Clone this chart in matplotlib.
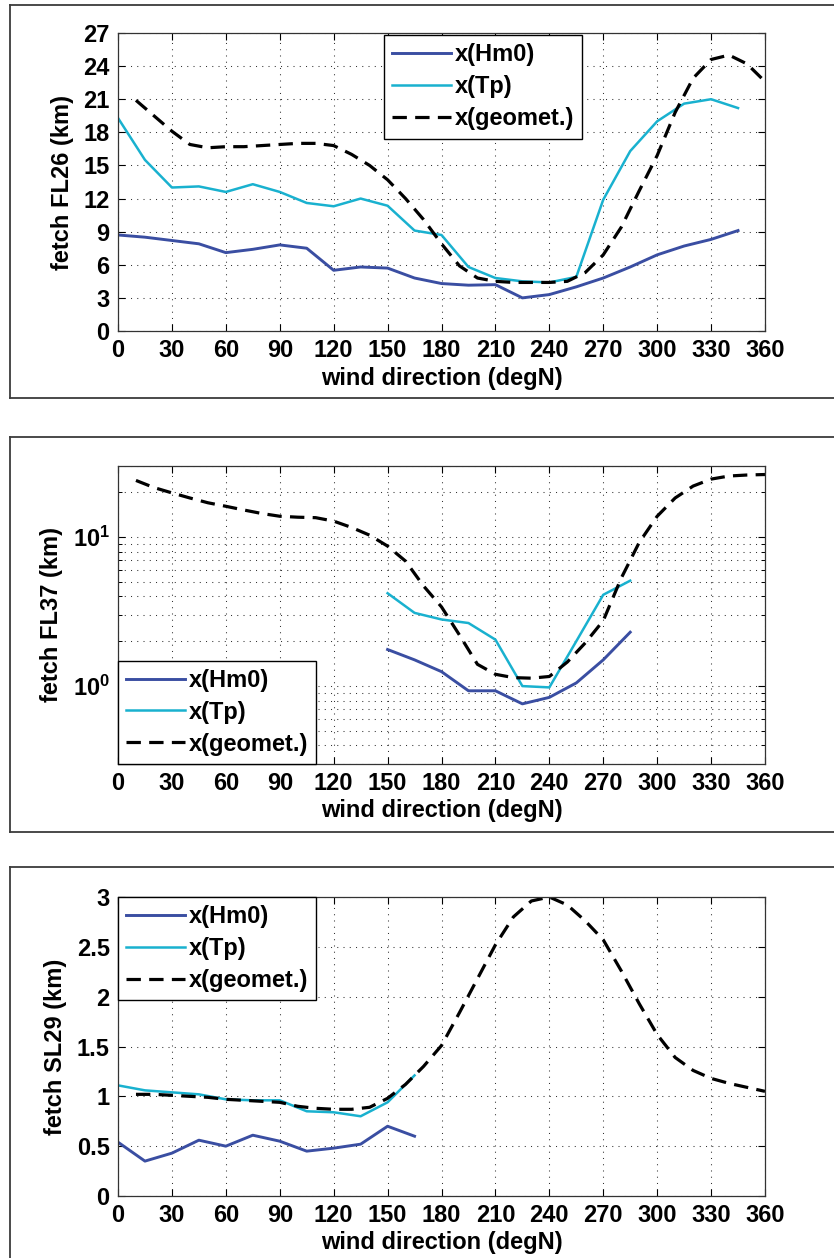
import matplotlib
matplotlib.use("Agg")
import matplotlib.pyplot as plt
from matplotlib.lines import Line2D
from matplotlib.ticker import LogLocator, NullFormatter, FixedLocator, FixedFormatter

plt.rcParams['font.family'] = ['Liberation Sans', 'DejaVu Sans']
plt.rcParams['font.weight'] = 'bold'
plt.rcParams['axes.labelweight'] = 'bold'
plt.rcParams['font.size'] = 17
plt.rcParams['mathtext.fontset'] = 'custom'
plt.rcParams['mathtext.rm'] = 'Liberation Sans:bold'
plt.rcParams['mathtext.default'] = 'rm'

# ---------------- data ----------------
# FL26
fl26_dir = [0, 15, 30, 45, 60, 75, 90, 105, 120, 135, 150, 165, 180, 195, 210,
            225, 240, 255, 270, 285, 300, 315, 330, 345]
fl26_hm0 = [8.7, 8.5, 8.2, 7.9, 7.1, 7.4, 7.8, 7.5, 5.5, 5.8, 5.7, 4.8, 4.3, 4.15,
            4.2, 3.0, 3.3, 4.0, 4.8, 5.8, 6.9, 7.7, 8.3, 9.1]
fl26_tp = [19.3, 15.5, 13.0, 13.1, 12.6, 13.3, 12.6, 11.6, 11.3, 12.0, 11.35, 9.1,
           8.7, 5.8, 4.8, 4.5, 4.4, 4.9, 11.9, 16.3, 19.0, 20.6, 21.0, 20.2]
geo_dir = [10, 20, 30, 40, 50, 60, 70, 80, 90, 100, 110, 120, 130, 140, 150, 160,
           170, 180, 190, 200, 210, 220, 230, 240, 250, 260, 270, 280, 290, 300,
           310, 320, 330, 340, 350, 360]
fl26_geo = [20.9, 19.5, 18.1, 16.9, 16.6, 16.7, 16.7, 16.8, 16.9, 17.0, 17.0, 16.8,
            16.0, 15.0, 13.7, 12.0, 10.1, 7.9, 5.9, 4.8, 4.5, 4.4, 4.4, 4.4, 4.5,
            5.3, 6.9, 9.4, 12.7, 15.9, 19.8, 22.9, 24.6, 25.0, 24.2, 22.6]

# FL37
fl37_dir = [150, 165, 180, 195, 210, 225, 240, 255, 270, 285]
fl37_hm0 = [1.76, 1.5, 1.25, 0.93, 0.93, 0.76, 0.84, 1.05, 1.5, 2.3]
fl37_tp = [4.2, 3.1, 2.8, 2.65, 2.05, 1.0, 0.98, 2.0, 4.1, 5.1]
fl37_geo = [24.0, 21.5, 19.8, 18.3, 17.0, 16.1, 15.2, 14.4, 13.8, 13.6, 13.5, 12.8,
            11.6, 10.3, 8.7, 6.9, 4.7, 3.4, 2.2, 1.4, 1.2, 1.14, 1.13, 1.16, 1.45,
            1.95, 2.75, 5.3, 9.2, 13.8, 18.3, 22.0, 24.5, 25.7, 26.1, 26.3]

# SL29
sl29_dir = [0, 15, 30, 45, 60, 75, 90, 105, 120, 135, 150, 165]
sl29_hm0 = [0.54, 0.35, 0.43, 0.56, 0.50, 0.61, 0.55, 0.45, 0.48, 0.52, 0.70, 0.60]
sl29_tp = [1.11, 1.06, 1.04, 1.02, 0.97, 0.96, 0.96, 0.85, 0.84, 0.80, 0.94, 1.21]
sl29_geo = [1.02, 1.02, 1.01, 1.0, 0.99, 0.97, 0.96, 0.95, 0.94, 0.90, 0.88, 0.87,
            0.87, 0.89, 0.98, 1.12, 1.30, 1.51, 1.84, 2.18, 2.52, 2.80, 2.96, 3.0,
            2.92, 2.76, 2.57, 2.26, 1.93, 1.62, 1.39, 1.26, 1.18, 1.13, 1.09, 1.05]

x_ticks = [0, 30, 60, 90, 120, 150, 180, 210, 240, 270, 300, 330, 360]
labels = ['x(Hm0)', 'x(Tp)', 'x(geomet.)']

HM0_C = '#3a4ea2'
TP_C = '#19b1cf'

W, H = 834, 1258
fig = plt.figure(figsize=(W / 100, H / 100), dpi=100)


def px_axes(top, bottom, left=118, right=765):
    return fig.add_axes([left / W, 1 - bottom / H, (right - left) / W, (bottom - top) / H])


def frame(top, bottom, left=10):
    kw = dict(color='#3c3c3c', linewidth=1.3, transform=fig.transFigure)
    fig.add_artist(Line2D([left / W, 1.2], [1 - top / H, 1 - top / H], **kw))
    fig.add_artist(Line2D([left / W, left / W], [1 - top / H, 1 - bottom / H], **kw))
    fig.add_artist(Line2D([left / W, 1.2], [1 - bottom / H, 1 - bottom / H], **kw))


def style(ax, ylabel):
    ax.set_xlim(0, 360)
    ax.set_xticks(x_ticks)
    ax.tick_params(which='major', direction='in', length=5, width=0.8,
                   top=True, right=True, pad=6, labelsize=17)
    ax.tick_params(which='minor', direction='in', length=3, width=0.7,
                   top=True, right=True)
    for s in ax.spines.values():
        s.set_color('#333333')
        s.set_linewidth(0.9)
    ax.grid(True, which='major', linestyle=(0, (1, 5)), color='#333333', linewidth=0.75)
    ax.set_xlabel('wind direction (degN)', fontsize=17, fontweight='bold', labelpad=3)
    ax.set_ylabel(ylabel, fontsize=17, fontweight='bold', labelpad=7)


def draw(ax, d, hm0, tp, gdir, geo):
    ax.plot(d, hm0, color=HM0_C, linewidth=2.1, label=labels[0])
    ax.plot(d, tp, color=TP_C, linewidth=1.8, label=labels[1])
    ax.plot(gdir, geo, color='k', linewidth=2.3, dashes=(4.5, 2.6), label=labels[2])


def legend(ax, loc, anchor):
    leg = ax.legend(loc=loc, bbox_to_anchor=anchor, borderaxespad=0, fancybox=False,
                    edgecolor='k', framealpha=1, handlelength=2.5, handletextpad=0.15,
                    borderpad=0.35, labelspacing=0.38,
                    prop=dict(family=['Liberation Sans', 'DejaVu Sans'], weight='bold', size=17))
    leg.get_frame().set_linewidth(1.0)


# ---- panel 1: FL26 ----
frame(5, 398)
ax1 = px_axes(33, 331)
draw(ax1, fl26_dir, fl26_hm0, fl26_tp, geo_dir, fl26_geo)
ax1.set_ylim(0, 27)
ax1.set_yticks([0, 3, 6, 9, 12, 15, 18, 21, 24, 27])
style(ax1, 'fetch FL26 (km)')
legend(ax1, 'upper left', (0.411, 0.993))

# ---- panel 2: FL37 (log scale) ----
frame(437, 832)
ax2 = px_axes(466, 764)
draw(ax2, fl37_dir, fl37_hm0, fl37_tp, geo_dir, fl37_geo)
ax2.set_yscale('log')
ax2.set_ylim(0.3, 30)
ax2.yaxis.set_major_locator(FixedLocator([1, 10]))
ax2.yaxis.set_major_formatter(FixedFormatter([r'$10^{0}$', r'$10^{1}$']))
ax2.yaxis.set_minor_locator(LogLocator(base=10, subs=[2, 3, 4, 5, 6, 7, 8, 9]))
ax2.yaxis.set_minor_formatter(NullFormatter())
style(ax2, 'fetch FL37 (km)')
ax2.yaxis.grid(True, which='minor', linestyle=(0, (1, 5)), color='#333333', linewidth=0.75)
legend(ax2, 'lower left', (0, 0))

# ---- panel 3: SL29 ----
frame(867, 1400)
ax3 = px_axes(897, 1196)
draw(ax3, sl29_dir, sl29_hm0, sl29_tp, geo_dir, sl29_geo)
ax3.set_ylim(0, 3)
ax3.set_yticks([0, 0.5, 1, 1.5, 2, 2.5, 3])
ax3.set_yticklabels(['0', '0.5', '1', '1.5', '2', '2.5', '3'])
style(ax3, 'fetch SL29 (km)')
legend(ax3, 'upper left', (0, 1))

fig.savefig('out.png', dpi=100)
